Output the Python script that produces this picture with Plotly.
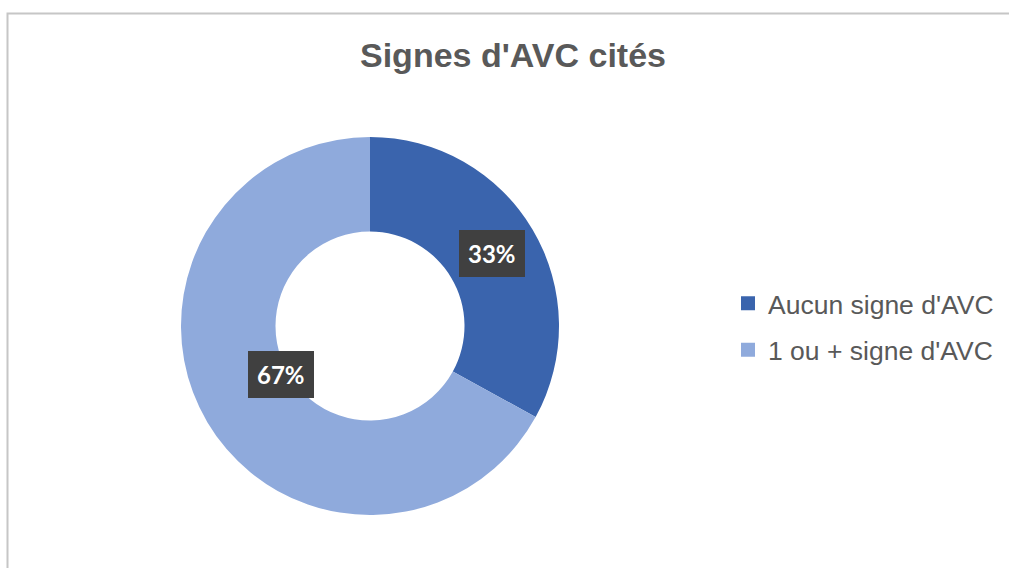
import math
import plotly.graph_objects as go

# ── Data ──────────────────────────────────────────────────────────────────────
labels = ["Aucun signe d'AVC", "1 ou + signe d'AVC"]
values = [33, 67]
colors = ["#3A64AD", "#8FAADC"]
title = "Signes d'AVC cités"

W, H = 1009, 568
CX, CY, R = 370, 326, 189          # donut centre / radius in pixels
HOLE = 0.5
TXT = "#595959"

fig = go.Figure(go.Pie(
    labels=labels, values=values, hole=HOLE,
    sort=False, direction="clockwise", rotation=0,
    marker=dict(colors=colors, line=dict(width=0)),
    textinfo="none", hoverinfo="label+percent", showlegend=False,
    domain=dict(x=[(CX - R) / W, (CX + R) / W],
                y=[(H - CY - R) / H, (H - CY + R) / H]),
))

# legend entries (one group each so the gap between them can be set)
for lab, col in zip(labels, colors):
    fig.add_trace(go.Scatter(
        x=[None], y=[None], mode="markers", name=lab, legendgroup=lab,
        marker=dict(symbol="square", size=14, color=col),
    ))

# data labels centred in the ring at each slice's mid-angle
total = sum(values)
cum = 0
annos = []
r_mid = R * (1 + HOLE) / 2
for v in values:
    mid = (cum + v / 2) / total * 2 * math.pi
    cum += v
    px = CX + r_mid * math.sin(mid)
    py = CY - r_mid * math.cos(mid)
    annos.append(dict(
        x=px / W, y=1 - py / H, xref="paper", yref="paper",
        text=f"<b>{round(v / total * 100)}%</b>", showarrow=False,
        font=dict(family="Lato, Open Sans", size=24, color="white"),
        bgcolor="#404040", borderpad=8, bordercolor="#404040",
    ))

fig.update_layout(
    title=dict(text=f"<b>{title}</b>", x=513 / W, xanchor="center", y=1 - 55 / H, yanchor="middle",
               font=dict(family="Liberation Sans, Arial", size=34, color=TXT)),
    width=W, height=H, margin=dict(l=0, r=0, t=0, b=0),
    paper_bgcolor="white", plot_bgcolor="white",
    xaxis=dict(visible=False), yaxis=dict(visible=False),
    legend=dict(x=728 / W, y=1 - 326.5 / H, xanchor="left", yanchor="middle",
                font=dict(family="Liberation Sans, Arial", size=26.5, color=TXT),
                itemwidth=30, tracegroupgap=9, traceorder="grouped", itemsizing="trace"),
    annotations=annos,
    shapes=[dict(type="rect", xref="paper", yref="paper",
                 x0=7.5 / W, x1=1.02, y0=-0.05, y1=1 - 13.5 / H,
                 line=dict(color="#C6C6C6", width=2))],
)

fig.write_html("out.html", config={"displayModeBar": False},
               post_script="document.body.style.margin='0';")
